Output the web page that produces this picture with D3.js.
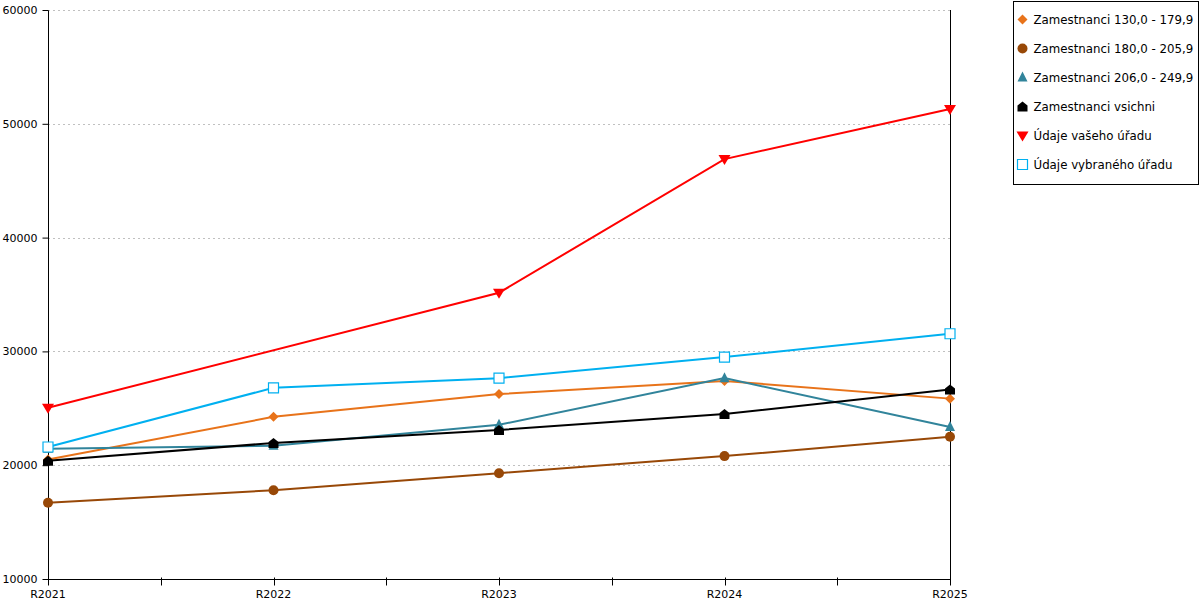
<!DOCTYPE html>
<html>
<head>
<meta charset="utf-8">
<script src="https://cdn.jsdelivr.net/npm/d3@7"></script>
<style>
  body { margin: 0; background: #fff; }
  text { font-family: "DejaVu Sans", Verdana, sans-serif; }
</style>
</head>
<body>
<div id="lineChart"></div>
<script>
// Categories and series values
var years = ["R2021", "R2022", "R2023", "R2024", "R2025"];
var yTicks = [10000, 20000, 30000, 40000, 50000, 60000];

var zam130 = [20500, 24250, 26250, 27400, 25850];
var zam180 = [16700, 17800, 19300, 20800, 22500];
var zam206 = [21450, 21700, 23550, 27650, 23350];
var zamAll = [20400, 21950, 23100, 24500, 26650];
var vasUrad = [25050, null, 35150, 46900, 51300];
var vybUrad = [21600, 26800, 27650, 29500, 31550];

var seriesNames = ["Zamestnanci 130,0 - 179,9", "Zamestnanci 180,0 - 205,9", "Zamestnanci 206,0 - 249,9",
  "Zamestnanci vsichni", "Údaje vašeho úřadu", "Údaje vybraného úřadu"];
var seriesValues = [zam130, zam180, zam206, zamAll, vasUrad, vybUrad];
var seriesColors = ["#e8731a", "#984807", "#31849b", "#000000", "#ff0000", "#00b0f0"];
var seriesMarkers = ["diamond", "circle", "triangle", "house", "down", "square"];

var margin = {top: 10, left: 48},
    w = 902,
    h = 569;

var svg = d3.select("#lineChart")
  .append("svg")
  .attr("width", 1200)
  .attr("height", 600);

var g = svg.append("g")
  .attr("transform", `translate(${margin.left},${margin.top})`);

var x = d3.scalePoint().domain(years).range([0, w]);
var y = d3.scaleLinear().domain([10000, 60000]).range([h, 0]);

// gridlines
g.selectAll(".grid")
  .data(yTicks.filter(d => d > 10000))
  .enter().append("line")
  .attr("x1", 0).attr("x2", w)
  .attr("y1", d => Math.round(y(d)) + 0.5)
  .attr("y2", d => Math.round(y(d)) + 0.5)
  .attr("stroke", "#c0c0c0")
  .attr("stroke-dasharray", "2,3");

// right line
g.append("line")
  .attr("x1", w + 0.5).attr("x2", w + 0.5)
  .attr("y1", 0).attr("y2", h)
  .attr("stroke", "black");

// Y Axis
var yAxis = g.append("g")
  .attr("transform", "translate(0.5,0)")
  .call(d3.axisLeft(y).tickValues(yTicks).tickSize(6).tickPadding(5).tickFormat(d3.format("d")));
yAxis.select(".domain").attr("d", `M0,${h + 5}V0.5`).attr("stroke", "black");
yAxis.selectAll("text").style("font-size", "11px").attr("fill", "#000");

// X Axis with minor ticks between categories
var xAxis = g.append("g").attr("transform", `translate(0,${h + 0.5})`);
xAxis.append("line").attr("x1", 0).attr("x2", w).attr("stroke", "black");
var step = x.step();
var tickPos = d3.range(0, years.length * 2 - 1).map(i => i * step / 2);
xAxis.selectAll(".xt")
  .data(tickPos)
  .enter().append("line")
  .attr("x1", d => Math.round(d) + 0.5).attr("x2", d => Math.round(d) + 0.5)
  .attr("y1", -2).attr("y2", 6)
  .attr("stroke", "black");
xAxis.selectAll(".xl")
  .data(years)
  .enter().append("text")
  .attr("x", d => x(d))
  .attr("y", 18)
  .attr("text-anchor", "middle")
  .style("font-size", "11px")
  .text(d => d);

// marker symbols
function markerPath(type, s) {
  switch (type) {
    case "diamond": return `M0,${-s}L${s},0L0,${s}L${-s},0Z`;
    case "circle": return d3.symbol(d3.symbolCircle, Math.PI * 25)();
    case "triangle": return `M0,${-s - 1}L${s},${s - 1}L${-s},${s - 1}Z`;
    case "house": return `M0,${-s}L${s},${-1}L${s},${s}L${-s},${s}L${-s},${-1}Z`;
    case "down": return `M${-s - 1},${-s + 1}L${s + 1},${-s + 1}L0,${s + 1}Z`;
    case "square": return `M${-s},${-s}H${s}V${s}H${-s}Z`;
  }
}

var line = d3.line()
  .x(d => x(d[0]))
  .y(d => y(d[1]));

seriesValues.forEach(function(vals, i) {
  var pts = years.map((yr, j) => [yr, vals[j]]).filter(d => d[1] != null);
  g.append("path")
    .datum(pts)
    .attr("fill", "none")
    .attr("stroke", seriesColors[i])
    .attr("stroke-width", 2)
    .attr("d", line);
});

seriesValues.forEach(function(vals, i) {
  var pts = years.map((yr, j) => [yr, vals[j]]).filter(d => d[1] != null);
  var open = seriesMarkers[i] === "square";
  g.selectAll(".m" + i)
    .data(pts)
    .enter().append("path")
    .attr("transform", d => `translate(${x(d[0])},${y(d[1])})`)
    .attr("d", markerPath(seriesMarkers[i], 5))
    .attr("fill", open ? "#fff" : seriesColors[i])
    .attr("stroke", open ? seriesColors[i] : "none")
    .attr("stroke-width", 1.2);
});

// Legend
var legend = svg.append("g").attr("transform", "translate(1013.5,1.5)");
legend.append("rect")
  .attr("width", 185).attr("height", 183)
  .attr("fill", "#fff").attr("stroke", "black");
seriesNames.forEach(function(name, i) {
  var ly = 18 + i * 29;
  var open = seriesMarkers[i] === "square";
  legend.append("path")
    .attr("transform", `translate(9,${ly})`)
    .attr("d", markerPath(seriesMarkers[i], 5))
    .attr("fill", open ? "#fff" : seriesColors[i])
    .attr("stroke", open ? seriesColors[i] : "none")
    .attr("stroke-width", 1.2);
  legend.append("text")
    .attr("x", 20).attr("y", ly + 4)
    .style("font-size", "11.8px")
    .text(name);
});
</script>
</body>
</html>
